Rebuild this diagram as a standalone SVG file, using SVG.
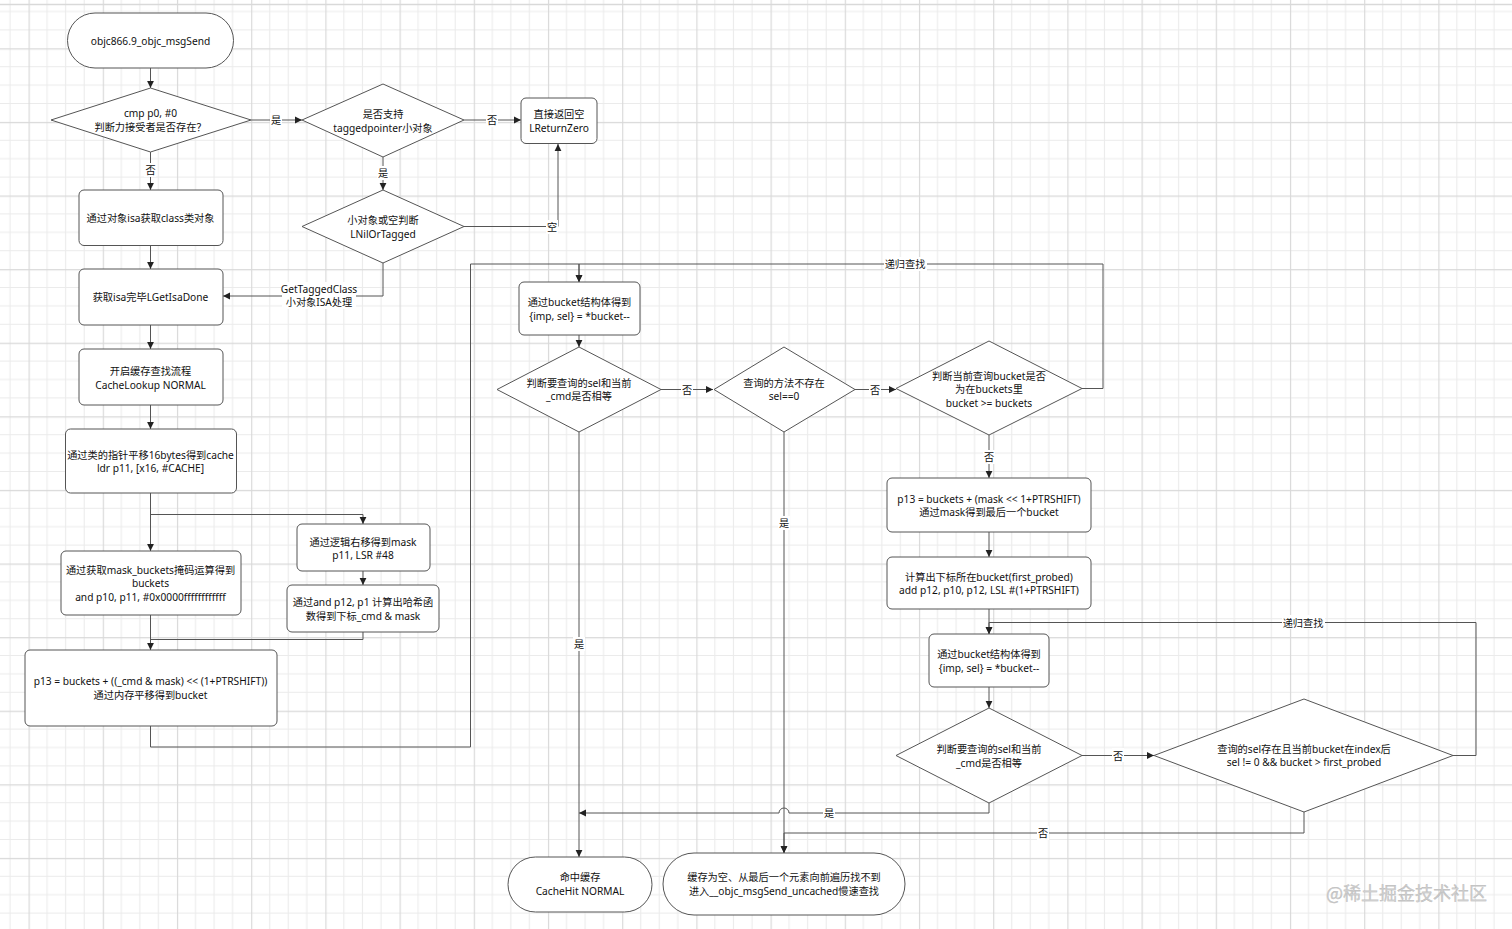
<svg xmlns="http://www.w3.org/2000/svg" width="1512" height="929" viewBox="0 0 1512 929">
<defs>
<pattern id="grid" patternUnits="userSpaceOnUse" x="28.55" y="48.3" width="74.2" height="73.6">
<rect width="74.2" height="73.6" fill="#ffffff"/>
<path d="M18.55,0V73.6M37.1,0V73.6M55.65,0V73.6M0,18.4H74.2M0,36.8H74.2M0,55.2H74.2" stroke="#ebebeb" stroke-width="1" fill="none"/>
<path d="M0.5,0V73.6M0,0.5H74.2" stroke="#d9d9d9" stroke-width="1.3" fill="none"/>
</pattern>
<marker id="arr" markerUnits="userSpaceOnUse" markerWidth="9" markerHeight="9" refX="7" refY="4" orient="auto">
<path d="M0,0.6 L7,4 L0,7.4 z" fill="#222"/>
</marker>
<style>
.n{fill:#fff;stroke:#555;stroke-width:1}
.t{font-family:"Noto Sans","Noto Sans CJK SC",sans-serif;font-size:10.2px;fill:#111;text-anchor:middle;dominant-baseline:central}
.c{fill:none;stroke:#555;stroke-width:1}
.a{marker-end:url(#arr)}
.lb{fill:#fff}
.wm{font-family:"Noto Sans CJK SC",sans-serif;font-size:18px;fill:#cfcfcf;stroke:#a8a8a8;stroke-width:0.25}
</style>
</defs>
<rect width="1512" height="929" fill="url(#grid)"/>
<path d="M0,4.5H1512" stroke="#d9d9d9" stroke-width="1.3"/>

<g id="connectors">
<path class="c a" d="M150.5,68V88"/>
<path class="c a" d="M251,120H302"/>
<path class="c a" d="M464,120H521"/>
<path class="c a" d="M383,157V190"/>
<path class="c a" d="M464,226.5H558V144"/>
<path class="c a" d="M383,263V296H223"/>
<path class="c a" d="M150.5,152V190"/>
<path class="c a" d="M150.5,246V269"/>
<path class="c a" d="M150.5,325V349"/>
<path class="c a" d="M150.5,405V429"/>
<path class="c a" d="M150.5,493V551"/>
<path class="c a" d="M150.5,514.5H363V524"/>
<path class="c a" d="M363,571V585"/>
<path class="c" d="M363,632V639.5H150.5"/>
<path class="c a" d="M150.5,615V650"/>
<path class="c a" d="M150.5,726V747H470.5V264H579V282"/>
<path class="c a" d="M1082,388.5H1103V264H579V282"/>
<path class="c a" d="M579,335V347"/>
<path class="c a" d="M661,389.5H713"/>
<path class="c a" d="M855,389.5H896"/>
<path class="c a" d="M989,435V478"/>
<path class="c a" d="M989,532V557"/>
<path class="c a" d="M989,609V634"/>
<path class="c a" d="M989,687V708"/>
<path class="c a" d="M1082,755.5H1154"/>
<path class="c a" d="M1453,755.5H1476V622.5H989V634"/>
<path class="c a" d="M989,803V813H789A5,5 0 0 0 779,813H579"/>
<path class="c a" d="M1304,812V833H784V853"/>
<path class="c a" d="M784,432V853"/>
<path class="c a" d="M579,432V857"/>
<g id="labels">
<rect class="lb" x="270" y="113" width="12" height="14"/><text class="t" x="276" y="120">是</text>
<rect class="lb" x="486" y="113" width="12" height="14"/><text class="t" x="492" y="120">否</text>
<rect class="lb" x="377" y="166" width="12" height="14"/><text class="t" x="383" y="173">是</text>
<rect class="lb" x="546" y="220" width="12" height="14"/><text class="t" x="552" y="227">空</text>
<rect class="lb" x="144" y="163" width="12" height="14"/><text class="t" x="150.5" y="170">否</text>
<rect class="lb" x="282" y="282" width="74" height="27"/><text class="t" x="319" y="289">GetTaggedClass</text><text class="t" x="319" y="302">小对象ISA处理</text>
<rect class="lb" x="884" y="257" width="43" height="14"/><text class="t" x="905" y="264">递归查找</text>
<rect class="lb" x="681" y="382" width="12" height="14"/><text class="t" x="687" y="389.5">否</text>
<rect class="lb" x="869" y="382" width="12" height="14"/><text class="t" x="875" y="389.5">否</text>
<rect class="lb" x="983" y="450" width="12" height="14"/><text class="t" x="989" y="457">否</text>
<rect class="lb" x="1112" y="748" width="12" height="14"/><text class="t" x="1118" y="755.5">否</text>
<rect class="lb" x="1282" y="615" width="43" height="14"/><text class="t" x="1303" y="622.5">递归查找</text>
<rect class="lb" x="823" y="806" width="12" height="14"/><text class="t" x="829" y="813">是</text>
<rect class="lb" x="1037" y="826" width="12" height="14"/><text class="t" x="1043" y="833">否</text>
<rect class="lb" x="778" y="516" width="12" height="14"/><text class="t" x="784" y="523">是</text>
<rect class="lb" x="573" y="637" width="12" height="14"/><text class="t" x="579" y="644">是</text>
</g>
</g>

<g id="start"><rect class="n" x="67.5" y="13" width="166" height="55" rx="27.5"/><text class="t" x="150.5" y="41">objc866.9_objc_msgSend</text></g>
<g id="d-cmp"><path class="n" d="M150.5,88L251,120L150.5,152L51,120Z"/><text class="t" x="150.5" y="113">cmp p0, #0</text><text class="t" x="150.5" y="127">判断力接受者是否存在？</text></g>
<g id="d-tagged"><path class="n" d="M383,84L464,120L383,157L302,120Z"/><text class="t" x="383" y="114">是否支持</text><text class="t" x="383" y="128">taggedpointer小对象</text></g>
<g id="return-zero"><rect class="n" x="521" y="98" width="76" height="45.5" rx="5"/><text class="t" x="559" y="114">直接返回空</text><text class="t" x="559" y="127.5">LReturnZero</text></g>
<g id="d-nil"><path class="n" d="M383,190L464,226.5L383,263L302,226.5Z"/><text class="t" x="383" y="220">小对象或空判断</text><text class="t" x="383" y="233.5">LNilOrTagged</text></g>
<g id="get-class"><rect class="n" x="79" y="190" width="144" height="55.5" rx="5"/><text class="t" x="150.5" y="218">通过对象isa获取class类对象</text></g>
<g id="isa-done"><rect class="n" x="79" y="269" width="144" height="56" rx="5"/><text class="t" x="150.5" y="297">获取isa完毕LGetIsaDone</text></g>
<g id="cache-lookup"><rect class="n" x="79" y="349" width="144" height="56" rx="5"/><text class="t" x="150.5" y="371">开启缓存查找流程</text><text class="t" x="150.5" y="384.5">CacheLookup NORMAL</text></g>
<g id="get-cache"><rect class="n" x="65.5" y="429" width="171" height="64" rx="5"/><text class="t" x="150.5" y="455">通过类的指针平移16bytes得到cache</text><text class="t" x="150.5" y="468">ldr p11, [x16, #CACHE]</text></g>
<g id="mask"><rect class="n" x="297" y="524" width="133" height="47" rx="5"/><text class="t" x="363" y="542">通过逻辑右移得到mask</text><text class="t" x="363" y="555">p11, LSR #48</text></g>
<g id="hash"><rect class="n" x="287" y="585" width="152" height="47" rx="5"/><text class="t" x="363" y="602">通过and p12, p1 计算出哈希函</text><text class="t" x="363" y="615.5">数得到下标_cmd &amp; mask</text></g>
<g id="buckets"><rect class="n" x="61" y="551" width="180" height="64" rx="5"/><text class="t" x="150.5" y="569.5">通过获取mask_buckets掩码运算得到</text><text class="t" x="150.5" y="583">buckets</text><text class="t" x="150.5" y="596.5">and p10, p11, #0x0000ffffffffffff</text></g>
<g id="p13-a"><rect class="n" x="25" y="650" width="252" height="76" rx="5"/><text class="t" x="150.5" y="681">p13 = buckets + ((_cmd &amp; mask) &lt;&lt; (1+PTRSHIFT))</text><text class="t" x="150.5" y="694.5">通过内存平移得到bucket</text></g>
<g id="bucket-a"><rect class="n" x="519" y="282" width="121" height="53" rx="5"/><text class="t" x="579.5" y="302">通过bucket结构体得到</text><text class="t" x="579.5" y="316">{imp, sel} = *bucket--</text></g>
<g id="d-eq-a"><path class="n" d="M579,347L661,389.5L579,432L497,389.5Z"/><text class="t" x="579" y="382.5">判断要查询的sel和当前</text><text class="t" x="579" y="396">_cmd是否相等</text></g>
<g id="d-sel0"><path class="n" d="M784,347L855,389.5L784,432L714,389.5Z"/><text class="t" x="784" y="382.5">查询的方法不存在</text><text class="t" x="784" y="396">sel==0</text></g>
<g id="d-ge"><path class="n" d="M989,341L1082,388.5L989,435L896,388.5Z"/><text class="t" x="989" y="375.5">判断当前查询bucket是否</text><text class="t" x="989" y="389">为在buckets里</text><text class="t" x="989" y="402.5">bucket &gt;= buckets</text></g>
<g id="p13-b"><rect class="n" x="887" y="478" width="204" height="54" rx="5"/><text class="t" x="989" y="499">p13 = buckets + (mask &lt;&lt; 1+PTRSHIFT)</text><text class="t" x="989" y="512">通过mask得到最后一个bucket</text></g>
<g id="first-probed"><rect class="n" x="887" y="557" width="204" height="52" rx="5"/><text class="t" x="989" y="577">计算出下标所在bucket(first_probed)</text><text class="t" x="989" y="590">add p12, p10, p12, LSL #(1+PTRSHIFT)</text></g>
<g id="bucket-b"><rect class="n" x="929" y="634" width="120" height="53" rx="5"/><text class="t" x="989" y="654">通过bucket结构体得到</text><text class="t" x="989" y="668">{imp, sel} = *bucket--</text></g>
<g id="d-eq-b"><path class="n" d="M989,708L1082,755.5L989,803L896,755.5Z"/><text class="t" x="989" y="749">判断要查询的sel和当前</text><text class="t" x="989" y="762.5">_cmd是否相等</text></g>
<g id="d-probed"><path class="n" d="M1304,699L1453,755.5L1304,812L1154,755.5Z"/><text class="t" x="1304" y="749">查询的sel存在且当前bucket在index后</text><text class="t" x="1304" y="762">sel != 0 &amp;&amp; bucket &gt; first_probed</text></g>
<g id="cache-hit"><rect class="n" x="508" y="857" width="144" height="55" rx="27.5"/><text class="t" x="580" y="877">命中缓存</text><text class="t" x="580" y="891">CacheHit NORMAL</text></g>
<g id="uncached"><rect class="n" x="663" y="853" width="242" height="62" rx="31"/><text class="t" x="784" y="877">缓存为空、从最后一个元素向前遍历找不到</text><text class="t" x="784" y="891">进入__objc_msgSend_uncached慢速查找</text></g>
<text class="wm" x="1326" y="900">@稀土掘金技术社区</text>
</svg>
